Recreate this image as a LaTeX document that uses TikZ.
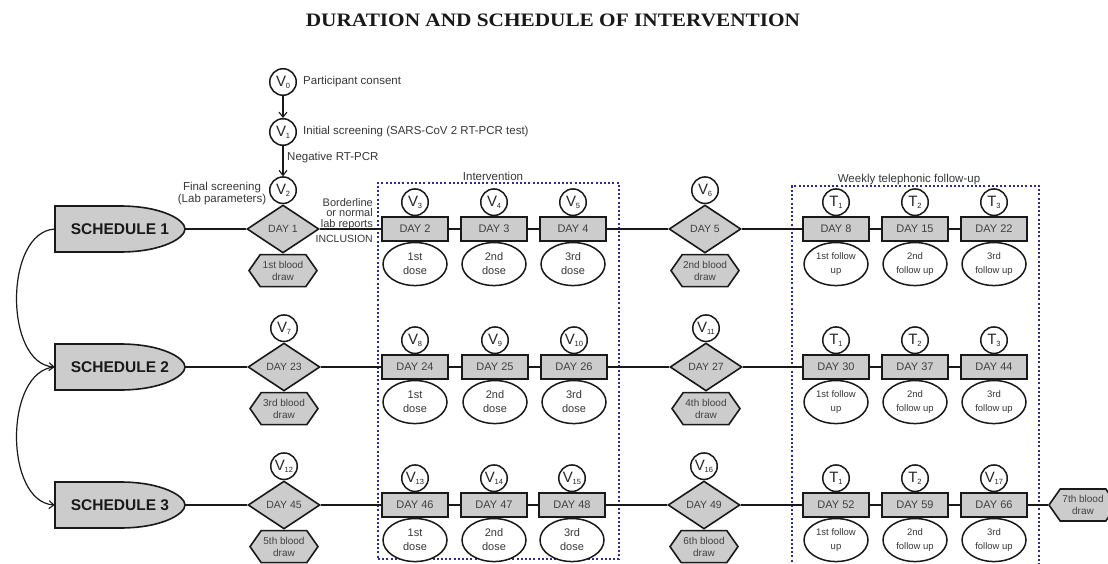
\documentclass[tikz,border=0pt]{standalone}
\usepackage{fontspec}
\setmainfont{Liberation Sans}
\newfontfamily\titlefont{Liberation Serif}
\usetikzlibrary{shapes.geometric,shapes.symbols,arrows.meta}
\definecolor{boxgray}{RGB}{204,204,204}
\definecolor{txtgray}{RGB}{55,55,55}
\definecolor{daygray}{RGB}{64,64,64}
\definecolor{dotblue}{RGB}{45,45,140}
\newcommand\vl[2]{#1\kern-0.2pt\raisebox{-1.8pt}{\fontsize{7.5}{7.5}\selectfont #2}}
\tikzset{
  conn/.style={line width=1.2pt, draw=black!90},
  arr/.style={conn, -{Straight Barb[length=5pt,width=8pt,line width=1.1pt]}},
  lbl/.style={inner sep=0pt, text=txtgray, font=\fontsize{11.5}{12}\selectfont},
  daybox/.style={rectangle, draw=black!90, line width=1.6pt, fill=boxgray, minimum width=66pt, minimum height=24pt, inner sep=0pt, text=daygray, font=\fontsize{11}{12}\selectfont},
  dayd/.style={diamond, draw=black!90, line width=1.6pt, fill=boxgray, minimum width=72pt, minimum height=48pt, inner sep=0pt, text=daygray, font=\fontsize{10.5}{12}\selectfont},
  circ/.style={circle, draw=black!90, line width=1.5pt, fill=white, minimum size=26.5pt, inner sep=0pt, text=black!85, font=\fontsize{15}{15}\selectfont},
  oval/.style={ellipse, draw=black!90, line width=1.5pt, fill=white, minimum width=64pt, minimum height=43pt, inner sep=0pt, align=center, text=txtgray, font=\fontsize{11}{14}\selectfont},
  ovalf/.style={oval, font=\fontsize{9.5}{14}\selectfont},
  hexa/.style={signal, signal to=west and east, signal pointer angle=110, draw=black!90, line width=1.6pt, fill=boxgray, minimum width=68pt, minimum height=32pt, inner sep=0pt, align=center, text=daygray, font=\fontsize{10}{12}\selectfont},
  schedtxt/.style={minimum width=130pt, minimum height=46pt, inner sep=0pt, text=black!90, font=\bfseries\fontsize{15.5}{16}\selectfont},
  schedshape/.style={draw=black!90, line width=1.6pt, fill=boxgray},
  dotbox/.style={draw=dotblue, line width=1.6pt, dash pattern=on 2pt off 2.2pt}
}
\newcommand\daygroup[7]{%
  \node[daybox] (#1) at (#2,#3) {#4};
  \node[circ, anchor=south] (#1c) at (#1.north) {#5};
  \node[#7, anchor=north] (#1e) at (#1.south) {#6};
}
\newcommand\diagroup[6]{%
  \node[dayd] (#1) at (#2,#3) {#4};
  \node[circ, anchor=south] (#1c) at (#1.north) {#5};
  \node[hexa, anchor=north] (#1h) at (#1.south) {#6};
}
\newcommand\schedule[3]{%
  \coordinate (#1p) at (120,#2);
  \draw[schedshape, shift={(#1p)}] (-65,-23) -- (0,-23) .. controls (42,-23) and (65,-9) .. (65,0) .. controls (65,9) and (42,23) .. (0,23) -- (-65,23) -- cycle;
  \node[schedtxt] (#1) at (#1p) {#3};
}
\begin{document}
\begin{tikzpicture}[x=1pt,y=-1pt]
\useasboundingbox (0,0) rectangle (1108,564);
\fill[white] (0,0) rectangle (1108,564);

% title
\node[inner sep=0pt, font=\titlefont\bfseries\fontsize{19}{22}\selectfont, text=black!90] (title) at (553,20) {\scalebox{1.12}[1]{DURATION AND SCHEDULE OF INTERVENTION}};

% dotted frames
\node[dotbox, minimum width=241pt, minimum height=376pt, inner sep=0pt] (interv) at (498.5,371) {};
\node[lbl, anchor=base] (intervl) at (493,181) {Intervention};
\node[dotbox, minimum width=247pt, minimum height=384pt, inner sep=0pt] (weekly) at (915.5,378) {};
\node[lbl, anchor=base] (weeklyl) at (909,183) {Weekly telephonic follow-up};

% screening chain
\node[circ] (v0) at (283,82) {\vl{V}{0}};
\node[lbl, anchor=west] (v0l) at (303,82) {Participant consent};
\node[circ] (v1) at (283,132) {\vl{V}{1}};
\node[lbl, anchor=west] (v1l) at (303,132) {Initial screening (SARS-CoV 2 RT-PCR test)};
\node[lbl, anchor=west] (negl) at (287,158) {Negative RT-PCR};
\node[lbl, align=center] (finl) at (222,194) {Final screening\\(Lab parameters)};

% schedules
\schedule{s1}{229}{SCHEDULE 1}
\schedule{s2}{367}{SCHEDULE 2}
\schedule{s3}{505}{SCHEDULE 3}

% row 1
\diagroup{da1}{283}{229}{DAY 1}{\vl{V}{2}}{1st blood\\draw}
\daygroup{a1}{415}{229}{DAY 2}{\vl{V}{3}}{1st\\dose}{oval}
\daygroup{a2}{494}{229}{DAY 3}{\vl{V}{4}}{2nd\\dose}{oval}
\daygroup{a3}{573}{229}{DAY 4}{\vl{V}{5}}{3rd\\dose}{oval}
\diagroup{db1}{705}{229}{DAY 5}{\vl{V}{6}}{2nd blood\\draw}
\daygroup{b1}{836}{229}{DAY 8}{\vl{T}{1}}{1st follow\\up}{ovalf}
\daygroup{b2}{915}{229}{DAY 15}{\vl{T}{2}}{2nd\\follow up}{ovalf}
\daygroup{b3}{994}{229}{DAY 22}{\vl{T}{3}}{3rd\\follow up}{ovalf}

% row 2
\diagroup{da2}{284}{367}{DAY 23}{\vl{V}{7}}{3rd blood\\draw}
\daygroup{c1}{415}{367}{DAY 24}{\vl{V}{8}}{1st\\dose}{oval}
\daygroup{c2}{495}{367}{DAY 25}{\vl{V}{9}}{2nd\\dose}{oval}
\daygroup{c3}{574}{367}{DAY 26}{\vl{V}{10}}{3rd\\dose}{oval}
\diagroup{db2}{706}{367}{DAY 27}{\vl{V}{11}}{4th blood\\draw}
\daygroup{d1}{836}{367}{DAY 30}{\vl{T}{1}}{1st follow\\up}{ovalf}
\daygroup{d2}{915}{367}{DAY 37}{\vl{T}{2}}{2nd\\follow up}{ovalf}
\daygroup{d3}{994}{367}{DAY 44}{\vl{T}{3}}{3rd\\follow up}{ovalf}

% row 3
\diagroup{da3}{284}{505}{DAY 45}{\vl{V}{12}}{5th blood\\draw}
\daygroup{e1}{415}{505}{DAY 46}{\vl{V}{13}}{1st\\dose}{oval}
\daygroup{e2}{494}{505}{DAY 47}{\vl{V}{14}}{2nd\\dose}{oval}
\daygroup{e3}{572}{505}{DAY 48}{\vl{V}{15}}{3rd\\dose}{oval}
\diagroup{db3}{704}{505}{DAY 49}{\vl{V}{16}}{6th blood\\draw}
\daygroup{f1}{836}{505}{DAY 52}{\vl{T}{1}}{1st follow\\up}{ovalf}
\daygroup{f2}{915}{505}{DAY 59}{\vl{T}{2}}{2nd\\follow up}{ovalf}
\daygroup{f3}{994}{505}{DAY 66}{\vl{V}{17}}{3rd\\follow up}{ovalf}
\node[hexa] (h7) at (1083,505) {7th blood\\draw};

% labels near inclusion
\node[lbl, align=right, anchor=south east, font=\fontsize{11}{10.5}\selectfont] (bordl) at (373,229.5) {Borderline\\or normal\\lab reports};
\node[lbl, anchor=east, font=\fontsize{10.5}{12}\selectfont] (incll) at (373,239) {INCLUSION};

% connectors
\draw[arr] (v0) -- (v1);
\draw[arr] (v1) -- (da1c);
\draw[arr] (s1.west) .. controls (4,232) and (4,364) .. (s2.west);
\draw[arr] (s2.west) .. controls (4,370) and (4,502) .. (s3.west);

\draw[conn] (s1.east) -- (da1.west);
\draw[conn] (da1.east) -- (a1.west);
\draw[conn] (a1.east) -- (a2.west);
\draw[conn] (a2.east) -- (a3.west);
\draw[conn] (a3.east) -- (db1.west);
\draw[conn] (db1.east) -- (b1.west);
\draw[conn] (b1.east) -- (b2.west);
\draw[conn] (b2.east) -- (b3.west);

\draw[conn] (s2.east) -- (da2.west);
\draw[conn] (da2.east) -- (c1.west);
\draw[conn] (c1.east) -- (c2.west);
\draw[conn] (c2.east) -- (c3.west);
\draw[conn] (c3.east) -- (db2.west);
\draw[conn] (db2.east) -- (d1.west);
\draw[conn] (d1.east) -- (d2.west);
\draw[conn] (d2.east) -- (d3.west);

\draw[conn] (s3.east) -- (da3.west);
\draw[conn] (da3.east) -- (e1.west);
\draw[conn] (e1.east) -- (e2.west);
\draw[conn] (e2.east) -- (e3.west);
\draw[conn] (e3.east) -- (db3.west);
\draw[conn] (db3.east) -- (f1.west);
\draw[conn] (f1.east) -- (f2.west);
\draw[conn] (f2.east) -- (f3.west);
\draw[conn] (f3.east) -- (h7.west);
\end{tikzpicture}
\end{document}
